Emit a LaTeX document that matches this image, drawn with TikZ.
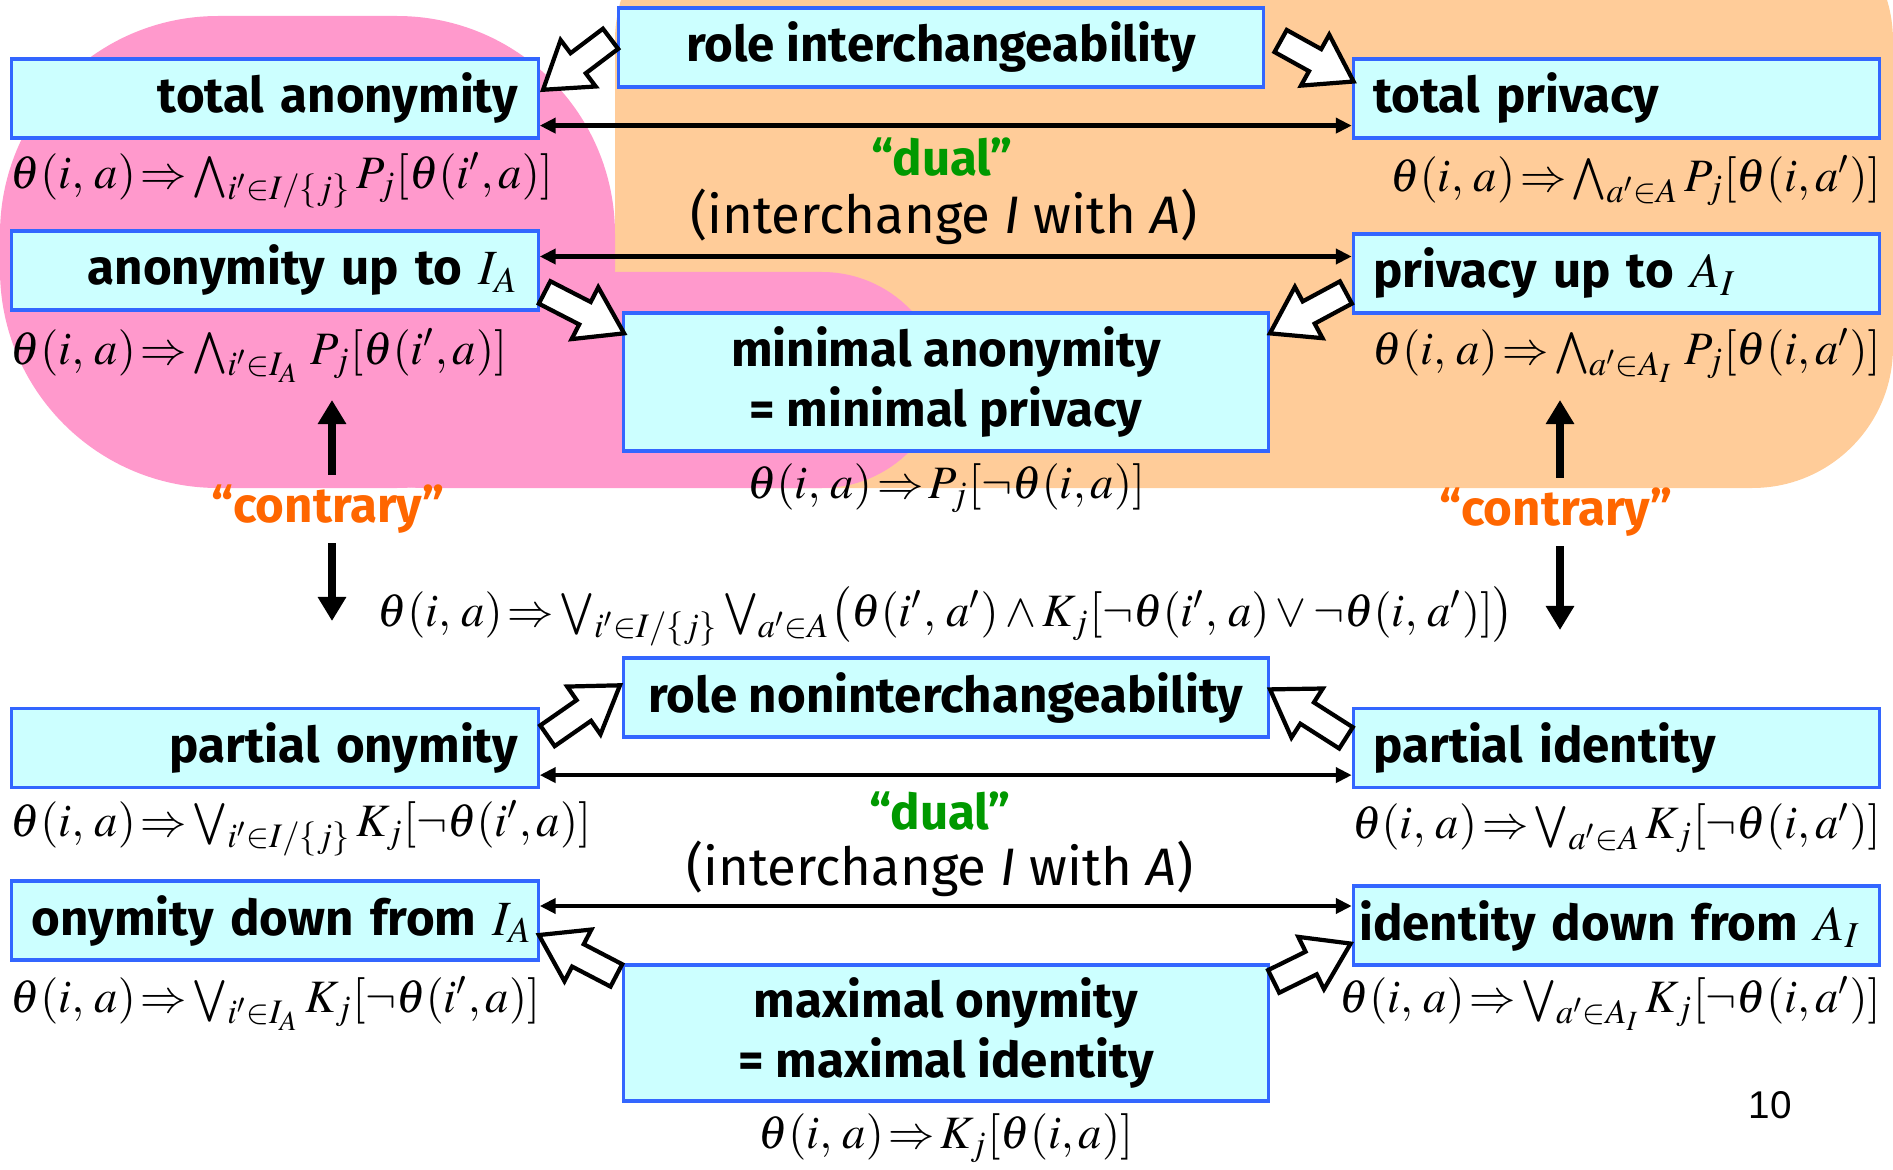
\documentclass[tikz,border=0pt]{standalone}
\usepackage{mathptmx}
\usepackage[no-math]{fontspec}
\setmainfont{Fira Sans}
\newfontfamily\arialfont{Liberation Sans}
\usepackage{tikz}
\usetikzlibrary{positioning, arrows.meta, calc, shapes.arrows}
\definecolor{boxcyan}{HTML}{CCFFFF}
\definecolor{boxblue}{HTML}{3366FF}
\definecolor{rosa}{HTML}{FF99CC}
\definecolor{peach}{HTML}{FFCC99}
\definecolor{dualgreen}{HTML}{009900}
\definecolor{contraorange}{HTML}{FF6600}
\newcommand{\boxfont}{\fontsize{14}{17}\selectfont\bfseries}
\newcommand{\fmlfont}{\fontsize{13.2}{16}\selectfont}
% hollow block arrow from #1 (tail) to #2 (tip)
\newcommand{\fatarrow}[2]{%
  \path let \p1=#1, \p2=#2, \n1={atan2(\y2-\y1,\x2-\x1)},
    \n2={veclen(\x2-\x1,\y2-\y1)} in
    node[hollow, minimum height=\n2, rotate=\n1, anchor=tail] at (\p1) {};}

\begin{document}
\begin{tikzpicture}[x=0.01cm, y=-0.01cm,
      sidebox/.style={draw=boxblue, line width=0.9pt, fill=boxcyan,
        text width=4.86cm, inner xsep=0.2cm, inner ysep=0pt,
        minimum height=0.79cm, font=\boxfont},
      leftbox/.style={sidebox, align=right},
      rightbox/.style={sidebox, align=left},
      widebox/.style={text width=5.14cm, inner xsep=0.06cm},
      midbox/.style={draw=boxblue, line width=0.9pt, fill=boxcyan,
        align=center, minimum width=6.44cm, minimum height=0.79cm,
        font=\boxfont},
      fml/.style={inner sep=0pt, font=\fmlfont},
      dualtext/.style={dualgreen, font=\boxfont, inner sep=1pt},
      swaptext/.style={font=\fontsize{15}{18}\selectfont, inner sep=1pt},
      contra/.style={contraorange, font=\boxfont, inner sep=2pt},
      swap/.style={{Triangle[length=0.16cm, width=0.15cm]}-{Triangle[length=0.16cm, width=0.15cm]},
        line width=1.2pt},
      pfeil/.style={-{Triangle[length=0.24cm, width=0.27cm]}, line width=2pt},
      hollow/.style={single arrow, draw=black, fill=white, line width=1.2pt,
        inner sep=0pt, text height=0.105cm, text depth=0.105cm,
        single arrow head extend=0.165cm, single arrow tip angle=67}]
  \useasboundingbox (0,0) rectangle (1893,1170);
  % background regions
  \fill[peach, rounded corners=40] (615,-100) rectangle (1893,488);
  \fill[rosa, rounded corners=62] (0,16) rectangle (615,488);
  \fill[rosa, rounded corners=35] (300,272) rectangle (945,488);

  % boxes
  \node[midbox] (roleint) at (941,47.5) {role interchangeability};
  \node[leftbox] (totanon) at (275,98.5) {total anonymity};
  \node[rightbox] (totpriv) at (1616.5,98.5) {total privacy};
  \node[leftbox] (anonup) at (275,270.5) {anonymity up to $I_A$};
  \node[rightbox] (privup) at (1616.5,273.5) {privacy up to $A_I$};
  \node[midbox, minimum height=1.38cm] (minimal) at (946,382)
    {minimal anonymity\\= minimal privacy};
  \node[midbox] (rolenon) at (946,697.5) {role noninterchangeability};
  \node[leftbox] (partony) at (275,748) {partial onymity};
  \node[rightbox] (partid) at (1616.5,748) {partial identity};
  \node[leftbox, widebox] (onydown) at (275,920.5) {onymity down from $I_A$};
  \node[rightbox, widebox] (iddown) at (1616.5,925.5) {identity down from $A_I$};
  \node[midbox, minimum height=1.36cm] (maximal) at (946,1033)
    {maximal onymity\\= maximal identity};

  % formulas
  \node[fml, below=0.41cm of totanon.south west, anchor=west] (fta)
    {$\theta(i,\,a)\!\Rightarrow\!\bigwedge_{i'\in I/\{j\}}P_j[\theta(i',a)]$};
  \node[fml, below=0.41cm of totpriv.south east, anchor=east] (ftp)
    {$\theta(i,\,a)\!\Rightarrow\!\bigwedge_{a'\in A}P_j[\theta(i,a')]$};
  \node[fml, below=0.44cm of anonup.south west, anchor=west] (fau)
    {$\theta(i,\,a)\!\Rightarrow\!\bigwedge_{i'\in I_A}\,P_j[\theta(i',a)]$};
  \node[fml, below=0.41cm of privup.south east, anchor=east] (fpu)
    {$\theta(i,\,a)\!\Rightarrow\!\bigwedge_{a'\in A_I}\,P_j[\theta(i,a')]$};
  \node[fml, below=0.36cm of minimal.south, anchor=center] (fmi)
    {$\theta(i,\,a)\!\Rightarrow\! P_j[\neg\theta(i,a)]$};
  \node[fml, above=0.40cm of rolenon.north, anchor=center] (flong)
    {$\theta(i,\,a)\!\Rightarrow\!\bigvee_{i'\in I/\{j\}}\bigvee_{a'\in A}\bigl(\theta(i',\,a')\wedge K_j[\neg\theta(i',\,a)\vee\neg\theta(i,\,a')]\bigr)$};
  \node[fml, below=0.39cm of partony.south west, anchor=west] (fpo)
    {$\theta(i,\,a)\!\Rightarrow\!\bigvee_{i'\in I/\{j\}}K_j[\neg\theta(i',a)]$};
  \node[fml, below=0.39cm of partid.south east, anchor=east] (fpi)
    {$\theta(i,\,a)\!\Rightarrow\!\bigvee_{a'\in A}K_j[\neg\theta(i,a')]$};
  \node[fml, below=0.42cm of onydown.south west, anchor=west] (fod)
    {$\theta(i,\,a)\!\Rightarrow\!\bigvee_{i'\in I_A}K_j[\neg\theta(i',a)]$};
  \node[fml, below=0.37cm of iddown.south east, anchor=east] (fid)
    {$\theta(i,\,a)\!\Rightarrow\!\bigvee_{a'\in A_I}K_j[\neg\theta(i,a')]$};
  \node[fml, below=0.36cm of maximal.south, anchor=center] (fmx)
    {$\theta(i,\,a)\!\Rightarrow\! K_j[\theta(i,a)]$};

  % labels
  \node[dualtext] (dualtop) at (942,157) {``dual''};
  \node[swaptext] (swaptop) at (944,217) {(interchange \textit{I} with \textit{A})};
  \node[dualtext] (dualbot) at (940,811) {``dual''};
  \node[swaptext] (swapbot) at (940,869) {(interchange \textit{I} with \textit{A})};
  \node[contra] (contraL) at (328,509) {``contrary''};
  \node[contra] (contraR) at (1556,512) {``contrary''};
  \node[font=\fontsize{11}{13}\selectfont\arialfont] (pagenum) at (1770,1105) {10};
  \coordinate (upL) at (332,400);
  \coordinate (downL) at (332,621);
  \coordinate (upR) at (1560,400);
  \coordinate (downR) at (1560,630);

  % dual arrows
  \draw[swap] ($(totanon.south east)+(0,-14)$) -- ($(totpriv.south west)+(0,-14)$);
  \draw[swap] ($(anonup.east)+(0,-14)$) -- ($(privup.west)+(0,-17)$);
  \draw[swap] ($(partony.south east)+(0,-14)$) -- ($(partid.south west)+(0,-14)$);
  \draw[swap] ($(onydown.east)+(0,-14.5)$) -- ($(iddown.west)+(0,-19.5)$);

  % contrary arrows
  \draw[pfeil] ($(contraL.north -| upL)+(0,-2)$) -- (upL);
  \draw[pfeil] ($(contraL.south -| downL)+(0,2)$) -- (downL);
  \draw[pfeil] ($(contraR.north -| upR)+(0,-2)$) -- (upR);
  \draw[pfeil] ($(contraR.south -| downR)+(0,2)$) -- (downR);

  % hollow arrows
  \fatarrow{($(roleint.west)+(-5,-10)$)}{($(totanon.east)+(5,-10)$)}
  \fatarrow{($(roleint.east)+(14,-7.5)$)}{($(totpriv.west)+(0,-18)$)}
  \fatarrow{($(anonup.east)+(3,21)$)}{($(minimal.north west)+(0,21)$)}
  \fatarrow{($(privup.west)+(-4,18)$)}{($(minimal.north east)+(2,21)$)}
  \fatarrow{($(partony.east)+(6,-11)$)}{($(rolenon.west)+(-4,-11)$)}
  \fatarrow{($(partid.west)+(-4,-9)$)}{($(rolenon.east)+(2,-7)$)}
  \fatarrow{($(maximal.north west)+(-4,13)$)}{($(onydown.east)+(1,15.5)$)}
  \fatarrow{($(maximal.north east)+(2,19)$)}{($(iddown.west)+(-3,19)$)}
\end{tikzpicture}
\end{document}
